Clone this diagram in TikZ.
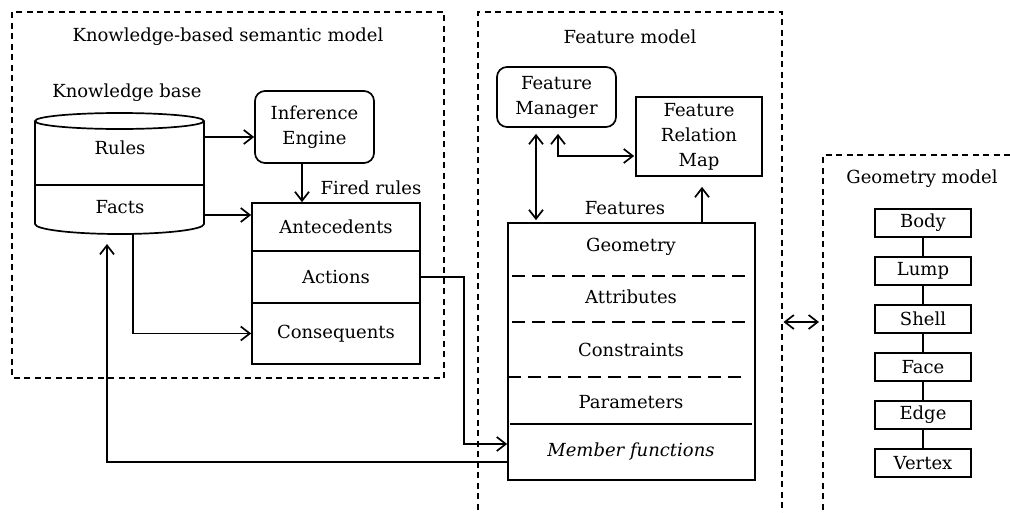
\documentclass[tikz,border=0pt]{standalone}
\usepackage{fontspec}
\setmainfont{DejaVu Serif}
\usetikzlibrary{arrows.meta,calc}
\begin{document}
\begin{tikzpicture}[x=1pt,y=-1pt,
  every node/.style={font=\fontsize{18}{25}\selectfont, inner sep=0pt, align=center},
  ln/.style={line width=1.7pt},
  frame/.style={line width=1.5pt, dash pattern=on 6pt off 4.5pt},
  rowsep/.style={line width=1.7pt, dash pattern=on 13pt off 7pt},
  box/.style={draw, line width=1.7pt, rectangle},
  rbox/.style={box, rounded corners=10pt},
  tip/.style={-{Straight Barb[length=9pt,width=14pt,line width=1.7pt]}},
  arr/.style={ln, tip},
  darr/.style={ln, {Straight Barb[length=9pt,width=14pt,line width=1.7pt]}-{Straight Barb[length=9pt,width=14pt,line width=1.7pt]}},
]
\useasboundingbox (0,0) rectangle (1010,512);

% frames
\draw[frame] (12,12) rectangle (444,378);
\draw[frame] (478,520) -- (478,12) -- (782,12) -- (782,520);
\draw[frame] (823,520) -- (823,155) -- (1015,155);

\node (t1) at (228,37) {Knowledge-based semantic model};
\node (t2) at (630,37) {Feature model};
\node (t3) at (922,179) {Geometry model};

% knowledge base cylinder
\node (kbl) at (127,93) {Knowledge base};
\draw[ln] (119.5,121) ellipse [x radius=84.5, y radius=8];
\draw[ln] (35,121) -- (35,224) arc[start angle=180, end angle=0, x radius=84.5, y radius=10] -- (204,121);
\draw[ln] (35,185) -- (204,185);
\node (rules) at (120,148) {Rules};
\node (facts) at (120,207) {Facts};
\coordinate (kbR1) at (204,137);
\coordinate (kbR2) at (204,215);
\coordinate (kbB1) at (107,234);
\coordinate (kbB2) at (133,233);

% inference engine and fired rules
\node[rbox, minimum width=119pt, minimum height=72pt] (inf) at (314.5,127) {Inference\\Engine};
\node (fired) at (371,188) {Fired rules};
\node[box, minimum width=168pt, minimum height=48pt] (ante) at (336,227) {Antecedents};
\node[box, minimum width=168pt, minimum height=52pt] (act) at (336,277) {Actions};
\node[box, minimum width=168pt, minimum height=61pt] (cons) at (336,333.5) {Consequents};

% feature model
\node[rbox, minimum width=119pt, minimum height=60pt] (fm) at (556.5,97) {Feature\\Manager};
\node[box, minimum width=126pt, minimum height=79pt] (frm) at (699,136.5) {Feature\\Relation\\Map};
\node (featl) at (625,208) {Features};
\node[box, minimum width=247pt, minimum height=257pt] (feat) at (631.5,351.5) {};
\node (geo) at (631,247) {Geometry};
\node (attr) at (631,297) {Attributes};
\node (cstr) at (631,350) {Constraints};
\node (par) at (631,402) {Parameters};
\node (mem) at (631,452) {\itshape Member functions};
\draw[rowsep] (512,276) -- (748,276);
\draw[rowsep] (512,322) -- (748,322);
\draw[rowsep] (508,377) -- (748,377);
\draw[ln] (510,424) -- (752,424);

% geometry model
\foreach \n/\t [count=\i from 0] in {body/Body,lump/Lump,shell/Shell,face/Face,edge/Edge,vert/Vertex}
  \node[box, minimum width=96pt, minimum height=28pt] (\n) at (923,223+48*\i) {\t};
\foreach \a/\b in {body/lump,lump/shell,shell/face,face/edge,edge/vert}
  \draw[ln] (\a.south) -- (\b.north);

% connectors
\draw[arr] (kbR1) -- (kbR1 -| inf.west);
\draw[arr] ([xshift=-12.5pt]inf.south) -- ([xshift=-12.5pt]inf.south |- ante.north);
\draw[arr] (kbR2) -- (kbR2 -| ante.west);
\draw[arr] (kbB2) |- (cons.west);
\draw[arr] (act.east) -- ++(43,0) |- (feat.west |- 0,444);
\draw[arr, shorten >=10pt] (feat.west |- 0,462) -| (kbB1);
\draw[darr, shorten <=6pt, shorten >=2pt] (fm.south -| 536,0) -- (feat.north -| 536,0);
\draw[darr, shorten <=6pt, shorten >=1pt] (fm.south -| 558,0) |- (frm.west |- 0,156);
\draw[arr, shorten >=10pt] (feat.north -| 702,0) -- (frm.south -| 702,0);
\coordinate (fmR) at (782,322);
\coordinate (gmL) at (823,322);
\draw[darr, shorten <=1.5pt, shorten >=4pt] (fmR) -- (gmL);
\end{tikzpicture}
\end{document}
